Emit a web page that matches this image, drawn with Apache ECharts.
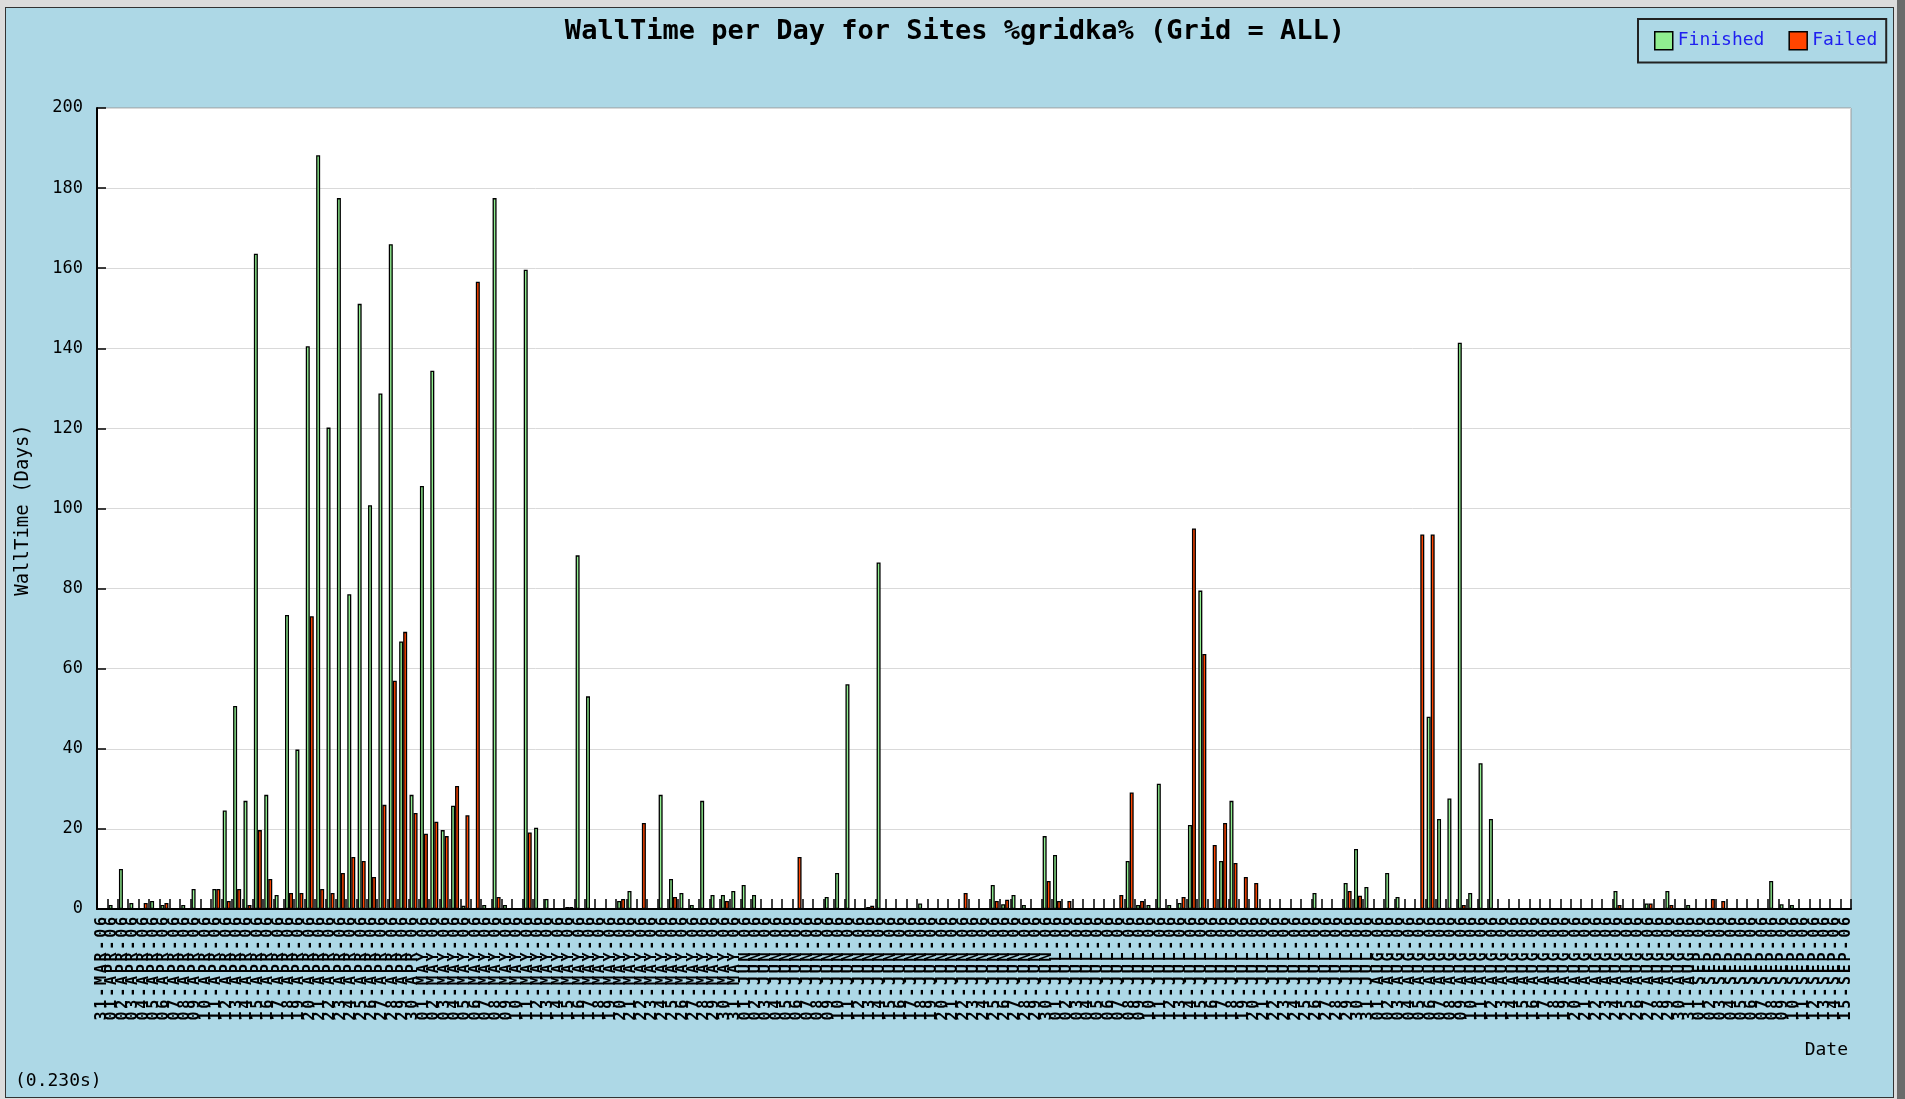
<!DOCTYPE html>
<html>
<head>
<meta charset="utf-8">
<script src="https://cdn.jsdelivr.net/npm/echarts@6/dist/echarts.min.js"></script>
<style>
html,body{margin:0;padding:0;}
body{background:#dcdcdc;width:1905px;height:1099px;overflow:hidden;position:relative;}
#frame{position:absolute;left:5px;top:7px;width:1887px;height:1089px;border:1.5px solid #333;background:#add8e6;}
#strip{position:absolute;left:1897px;top:0;width:8px;height:1099px;background:#6b6b6b;}
#chart{position:absolute;left:0;top:0;width:1905px;height:1099px;}
</style>
</head>
<body>
<div id="frame"></div>
<div id="strip"></div>
<div id="chart"></div>
<script>
const titleText = 'WallTime per Day for Sites %gridka% (Grid = ALL)';
const yAxisName = 'WallTime (Days)';
const xAxisName = 'Date';
const timingText = '(0.230s)';
const seriesNames = ['Finished', 'Failed'];
const yMin = 0, yMax = 200, yStep = 20;

const categories = [
'31-MAR-06',
'01-APR-06','02-APR-06','03-APR-06','04-APR-06','05-APR-06','06-APR-06','07-APR-06','08-APR-06','09-APR-06','10-APR-06',
'11-APR-06','12-APR-06','13-APR-06','14-APR-06','15-APR-06','16-APR-06','17-APR-06','18-APR-06','19-APR-06','20-APR-06',
'21-APR-06','22-APR-06','23-APR-06','24-APR-06','25-APR-06','26-APR-06','27-APR-06','28-APR-06','29-APR-06','30-APR-06',
'01-MAY-06','02-MAY-06','03-MAY-06','04-MAY-06','05-MAY-06','06-MAY-06','07-MAY-06','08-MAY-06','09-MAY-06','10-MAY-06',
'11-MAY-06','12-MAY-06','13-MAY-06','14-MAY-06','15-MAY-06','16-MAY-06','17-MAY-06','18-MAY-06','19-MAY-06','20-MAY-06',
'21-MAY-06','22-MAY-06','23-MAY-06','24-MAY-06','25-MAY-06','26-MAY-06','27-MAY-06','28-MAY-06','29-MAY-06','30-MAY-06','31-MAY-06',
'01-JUN-06','02-JUN-06','03-JUN-06','04-JUN-06','05-JUN-06','06-JUN-06','07-JUN-06','08-JUN-06','09-JUN-06','10-JUN-06',
'11-JUN-06','12-JUN-06','13-JUN-06','14-JUN-06','15-JUN-06','16-JUN-06','17-JUN-06','18-JUN-06','19-JUN-06','20-JUN-06',
'21-JUN-06','22-JUN-06','23-JUN-06','24-JUN-06','25-JUN-06','26-JUN-06','27-JUN-06','28-JUN-06','29-JUN-06','30-JUN-06',
'01-JUL-06','02-JUL-06','03-JUL-06','04-JUL-06','05-JUL-06','06-JUL-06','07-JUL-06','08-JUL-06','09-JUL-06','10-JUL-06',
'11-JUL-06','12-JUL-06','13-JUL-06','14-JUL-06','15-JUL-06','16-JUL-06','17-JUL-06','18-JUL-06','19-JUL-06','20-JUL-06',
'21-JUL-06','22-JUL-06','23-JUL-06','24-JUL-06','25-JUL-06','26-JUL-06','27-JUL-06','28-JUL-06','29-JUL-06','30-JUL-06','31-JUL-06',
'01-AUG-06','02-AUG-06','03-AUG-06','04-AUG-06','05-AUG-06','06-AUG-06','07-AUG-06','08-AUG-06','09-AUG-06','10-AUG-06',
'11-AUG-06','12-AUG-06','13-AUG-06','14-AUG-06','15-AUG-06','16-AUG-06','17-AUG-06','18-AUG-06','19-AUG-06','20-AUG-06',
'21-AUG-06','22-AUG-06','23-AUG-06','24-AUG-06','25-AUG-06','26-AUG-06','27-AUG-06','28-AUG-06','29-AUG-06','30-AUG-06','31-AUG-06',
'01-SEP-06','02-SEP-06','03-SEP-06','04-SEP-06','05-SEP-06','06-SEP-06','07-SEP-06','08-SEP-06','09-SEP-06','10-SEP-06',
'11-SEP-06','12-SEP-06','13-SEP-06','14-SEP-06','15-SEP-06'
];

const finished = [
0, 1, 10, 1.5, 0, 2, 1, 0, 1, 5,
0, 5, 24.6, 50.7, 27, 163.6, 28.5, 3.5, 73.4, 39.8,
140.5, 188.2, 120.2, 177.5, 78.6, 151.1, 100.8, 128.7, 166, 66.8,
28.5, 105.6, 134.4, 19.7, 25.8, 0.8, 0, 1, 177.5, 1,
0, 159.6, 20.3, 2.5, 0, 0.5, 88.3, 53.1, 0, 0,
2, 4.5, 0, 0, 28.5, 7.5, 4, 1, 27, 3.5,
3.5, 4.5, 6, 3.5, 0, 0, 0, 0, 0, 0,
3, 9, 56.1, 0, 0.5, 86.5, 0, 0, 0, 1.4,
0, 0, 0, 0, 0, 0, 6, 1.2, 3.5, 1,
0, 18.2, 13.5, 0, 0, 0, 0, 0, 0, 12,
1, 1, 31.3, 1, 1.5, 21, 79.5, 0, 12, 27,
0, 0, 0, 0, 0, 0, 0, 4, 0, 0,
6.5, 15, 5.5, 0, 9, 3, 0, 0, 48, 22.5,
27.6, 141.4, 4, 36.4, 22.5, 0, 0, 0, 0, 0,
0, 0, 0, 0, 0, 0, 4.5, 0, 0, 1.4,
0, 4.5, 0, 1, 0, 0, 0, 0, 0, 0,
0, 7, 1.2, 1, 0, 0, 0, 0, 0
];

const failed = [
0, 0, 0, 0, 1.5, 0, 1.5, 0, 0, 0,
0, 5, 2, 5, 1, 19.7, 7.5, 0, 4, 4,
73.1, 5, 4, 9, 13, 12, 8, 26, 57, 69.2,
24, 18.8, 21.8, 18.2, 30.7, 23.4, 156.6, 0, 3, 0,
0, 19.1, 0, 0, 0, 0.5, 0, 0, 0, 0,
2.5, 0, 21.5, 0, 0, 3, 0, 0, 0, 0,
2, 0, 0, 0, 0, 0, 0, 13, 0, 0,
0, 0, 0, 0, 0.8, 0, 0, 0, 0, 0,
0, 0, 0, 4, 0, 0, 2, 2.3, 0, 0,
0, 7, 2, 2, 0, 0, 0, 0, 3.5, 29.1,
2, 0, 0, 0, 3, 95, 63.7, 16, 21.5, 11.5,
8, 6.5, 0, 0, 0, 0, 0, 0, 0, 0,
4.5, 3.3, 0, 0, 0, 0, 0, 93.5, 93.5, 0,
0, 1, 0, 0, 0, 0, 0, 0, 0, 0,
0, 0, 0, 0, 0, 0, 1, 0, 0, 1.4,
0, 1, 0, 0, 0, 2.5, 2, 0, 0, 0,
0, 0, 0, 0, 0, 0, 0, 0, 0
];

const MONO = '"DejaVu Sans Mono", "Liberation Mono", monospace';
const chart = echarts.init(document.getElementById('chart'), null, {renderer: 'canvas'});

const option = {
  backgroundColor: 'transparent',
  animation: false,
  textStyle: {fontFamily: MONO},
  grid: {
    left: 97, right: 54, top: 108, bottom: 190,
    show: true, backgroundColor: '#ffffff', borderColor: '#9a9a9a', borderWidth: 1
  },
  legend: {
    data: seriesNames,
    left: 1638, top: 19,
    orient: 'horizontal',
    icon: 'rect',
    itemWidth: 18, itemHeight: 18, itemGap: 24,
    padding: [12, 9, 12, 16],
    borderColor: '#222', borderWidth: 2,
    itemStyle: {borderColor: '#000', borderWidth: 1.5},
    textStyle: {color: '#2020f0', fontSize: 18, fontFamily: MONO}
  },
  xAxis: {
    type: 'category',
    data: categories,
    boundaryGap: true,
    axisLine: {lineStyle: {color: '#000', width: 2}},
    axisTick: {show: true, inside: true, length: 10, interval: 0, lineStyle: {color: '#000', width: 1.5}},
    axisLabel: {
      interval: 0, rotate: 90, margin: 8, color: '#000',
      formatter: function (v) { return v.split('').map(function (c) { return '{c|' + c + '}'; }).join(''); },
      rich: {c: {width: 11.8, fontSize: 15, fontWeight: 'bold', fontFamily: MONO, color: '#000'}}
    },
    splitLine: {show: false}
  },
  yAxis: {
    type: 'value', min: yMin, max: yMax, interval: yStep,
    axisLine: {show: true, lineStyle: {color: '#000', width: 2}},
    axisTick: {show: true, inside: true, length: 9, lineStyle: {color: '#000', width: 1.5}},
    axisLabel: {fontSize: 17, color: '#000', margin: 14, fontFamily: MONO},
    splitLine: {show: true, lineStyle: {color: '#d9d9d9', width: 1}}
  },
  series: [
    {name: seriesNames[0], type: 'bar', data: finished, barWidth: 4, barGap: '0%',
     itemStyle: {color: '#90ee90', borderColor: '#000', borderWidth: 1.3}},
    {name: seriesNames[1], type: 'bar', data: failed, barWidth: 4, barGap: '0%',
     itemStyle: {color: '#ff4500', borderColor: '#000', borderWidth: 1.3}}
  ],
  graphic: [
    {type: 'text', x: 955, y: 32, style: {text: titleText, fontSize: 27, fontWeight: 'bold', fontFamily: MONO, fill: '#000', align: 'center', verticalAlign: 'middle'}},
    {type: 'text', x: 23, y: 510, rotation: Math.PI / 2, style: {text: yAxisName, fontSize: 19, fontFamily: MONO, fill: '#000', align: 'center', verticalAlign: 'middle'}},
    {type: 'text', x: 1848, y: 1050, style: {text: xAxisName, fontSize: 18, fontFamily: MONO, fill: '#000', align: 'right', verticalAlign: 'middle'}},
    {type: 'text', x: 15, y: 1081, style: {text: timingText, fontSize: 18, fontFamily: MONO, fill: '#000', align: 'left', verticalAlign: 'middle'}}
  ]
};
chart.setOption(option);
</script>
</body>
</html>
